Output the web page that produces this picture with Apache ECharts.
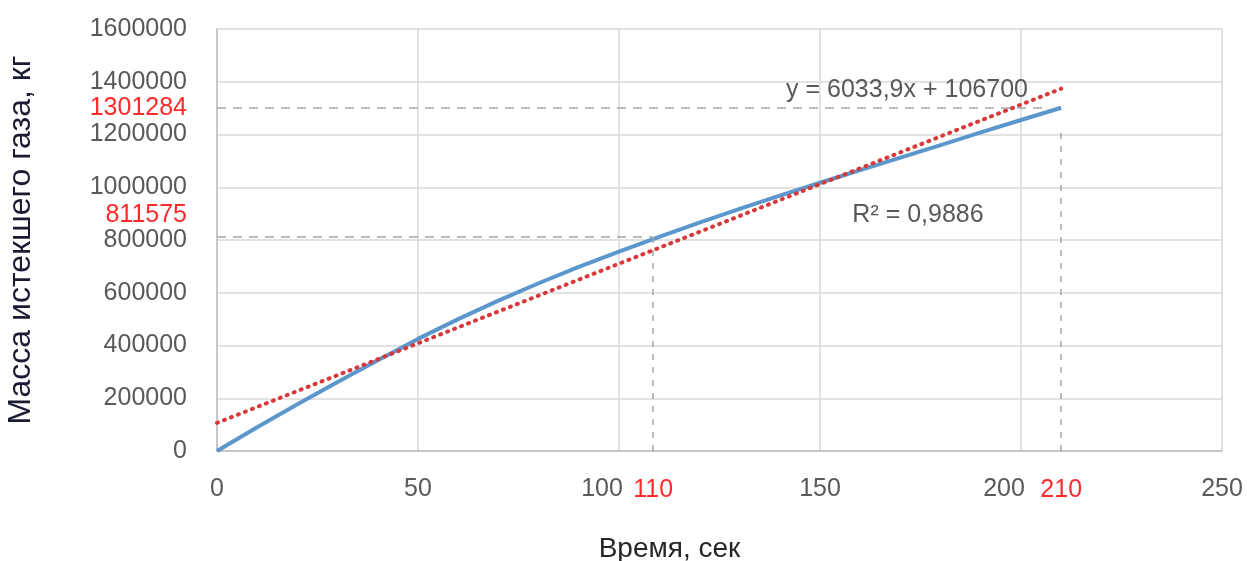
<!DOCTYPE html>
<html>
<head>
<meta charset="utf-8">
<script src="https://cdn.jsdelivr.net/npm/echarts@6/dist/echarts.min.js"></script>
<style>html,body{margin:0;padding:0;background:#fff;}#c{width:1247px;height:561px;}</style>
</head>
<body>
<div id="c"></div>
<script>
// Data
const timeSec = [0,10,20,30,40,50,60,70,80,90,100,110,120,130,140,150,160,170,180,190,200,210];
const massKg  = [0,90000,177000,262000,344000,425000,500000,570000,636000,698000,756000,811575,866000,918000,968000,1017000,1065000,1112000,1160000,1208000,1255000,1301284];
// Linear trend line end points (y = 6033,9x + 106700)
const trendX = [0, 210];
const trendY = [106700, 1373819];
// Highlighted points
const markA = {x: 108.5, label: '110', y: 811575};
const markB = {x: 210, label: '210', y: 1301284};
const xTicks = {min: 0, max: 250, interval: 50};
const yTicks = {min: 0, max: 1600000, interval: 200000};
const shiftedXTicks = [100, 200];
const eqText = 'y = 6033,9x + 106700';
const r2Text = 'R² = 0,9886';

const FONT = '"Liberation Sans", Arial, sans-serif';
const chart = echarts.init(document.getElementById('c'), null, {renderer: 'canvas'});
const gray = '#a6a6a6';
const labelStyle = {color: '#595959', fontSize: 25, fontFamily: FONT};
const option = {
  animation: false,
  backgroundColor: '#fff',
  grid: {left: 217, right: 25, top: 29, bottom: 110, containLabel: false, outerBoundsMode: 'none'},
  xAxis: {
    type: 'value', min: xTicks.min, max: xTicks.max, interval: xTicks.interval,
    axisLine: {show: true, lineStyle: {color: '#bfbfbf', width: 1.5}},
    axisTick: {show: false},
    splitLine: {show: true, lineStyle: {color: '#d9d9d9', width: 1.5}},
    axisLabel: {
      color: '#595959', fontSize: 25, margin: 26, fontFamily: FONT,
      formatter: v => shiftedXTicks.indexOf(v) >= 0 ? '{s|' + v + '}' : '{n|' + v + '}',
      rich: {
        s: Object.assign({padding: [0, 34, 0, 0]}, labelStyle),
        n: Object.assign({}, labelStyle)
      }
    },
    name: 'Время, сек', nameLocation: 'middle', nameGap: 84,
    nameTextStyle: {color: '#262626', fontSize: 28, fontFamily: FONT, padding: [0, 100, 0, 0]}
  },
  yAxis: {
    type: 'value', min: yTicks.min, max: yTicks.max, interval: yTicks.interval,
    axisLine: {show: true, lineStyle: {color: '#bfbfbf', width: 1.5}},
    axisTick: {show: false},
    splitLine: {show: true, lineStyle: {color: '#d9d9d9', width: 1.5}},
    axisLabel: {color: '#595959', fontSize: 25, margin: 30, fontFamily: FONT, formatter: v => String(v)},
    name: 'Масса истекшего газа, кг', nameLocation: 'middle', nameGap: 180,
    nameTextStyle: {color: '#1a1a33', fontSize: 32, fontFamily: FONT}
  },
  series: [
    {
      type: 'line', data: timeSec.map((t, i) => [t, massKg[i]]),
      showSymbol: false, symbol: 'none', smooth: false,
      lineStyle: {color: '#5b96cc', width: 4}, z: 3,
      markLine: {
        silent: true, symbol: ['none', 'none'], label: {show: false},
        lineStyle: {color: gray, width: 1.5, type: [9, 7]},
        data: [
          [{coord: [0, markA.y]}, {coord: [markA.x, markA.y]}],
          [{coord: [markA.x, 0], lineStyle: {type: [6, 7]}}, {coord: [markA.x, markA.y]}],
          [{coord: [0, markB.y]}, {coord: [markB.x - 4, markB.y]}],
          [{coord: [markB.x, 0], lineStyle: {type: [6, 7]}}, {coord: [markB.x, markB.y - 70000]}]
        ]
      }
    },
    {
      type: 'line', data: trendX.map((t, i) => [t, trendY[i]]),
      showSymbol: false, symbol: 'none',
      lineStyle: {color: '#d8383a', width: 4, type: [1, 6.5], cap: 'round'}, z: 4
    }
  ]
};
chart.setOption(option);

const pA = chart.convertToPixel({gridIndex: 0}, [markA.x, markA.y]);
const pB = chart.convertToPixel({gridIndex: 0}, [markB.x, markB.y]);
const x0 = chart.convertToPixel({gridIndex: 0}, [0, 0]);
const red = '#ff2a2a';
const txt = (x, y, s, align, color, size) => ({
  type: 'text', x: x, y: y,
  style: {text: s, fill: color, font: size + 'px ' + FONT, textAlign: align, textVerticalAlign: 'middle'}
});
chart.setOption({
  graphic: [
    txt(pA[0], x0[1] + 39, markA.label, 'center', red, 25),
    txt(pB[0], x0[1] + 39, markB.label, 'center', red, 25),
    txt(x0[0] - 30, pB[1], '1301284', 'right', red, 25),
    txt(x0[0] - 30, pA[1] - 22, '811575', 'right', red, 25),
    txt(907, 90, eqText, 'center', '#595959', 25),
    txt(918, 215, r2Text, 'center', '#595959', 25)
  ]
});
</script>
</body>
</html>
